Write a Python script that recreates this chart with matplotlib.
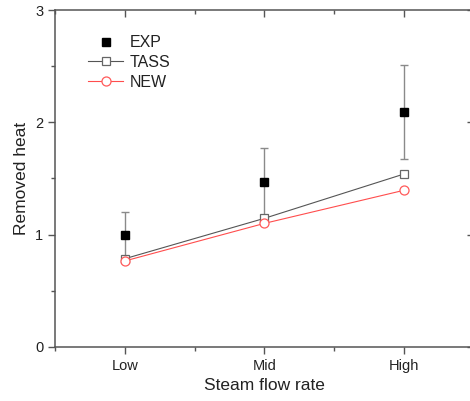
import numpy as np
import matplotlib.pyplot as plt
from matplotlib.ticker import MultipleLocator

plt.rcParams['font.family'] = ['Liberation Sans', 'DejaVu Sans']

# steam flow cases and removed heat results
cases = ['Low', 'Mid', 'High']
exp_vals = [1.00, 1.47, 2.09]
exp_err = [0.20, 0.30, 0.42]
tass_vals = [0.785, 1.145, 1.54]
new_vals = [0.765, 1.10, 1.395]

x = np.arange(1, len(cases) + 1)

fig = plt.figure(figsize=(4.70, 4.01), dpi=100)
ax = fig.add_axes([0.117, 0.135, 0.8915, 0.84])

ax.errorbar(x, exp_vals, yerr=exp_err, fmt='none', ecolor='#8a8a8a',
            elinewidth=1.0, capsize=3, capthick=1.0, zorder=2)
ax.plot(x, tass_vals, color='#555555', lw=0.8, marker='s', ms=5.5,
        mfc='white', mec='#666666', mew=0.9, label='TASS', zorder=3)
ax.plot(x, new_vals, color='#ff4d4d', lw=0.8, marker='o', ms=6.5,
        mfc='white', mec='#ff5a5a', mew=0.9, label='NEW', zorder=4)
ax.plot(x, exp_vals, ls='none', marker='s', ms=5.5, color='black',
        label='EXP', zorder=5)

ax.set_xlim(0.5, 3.5)
ax.set_ylim(0, 3)
ax.set_xticks(x)
ax.set_xticklabels(cases)
ax.xaxis.set_minor_locator(MultipleLocator(0.5))
ax.yaxis.set_major_locator(MultipleLocator(1))
ax.yaxis.set_minor_locator(MultipleLocator(0.5))

for s in ax.spines.values():
    s.set_color('#555555')
    s.set_linewidth(1.1)

ax.tick_params(which='both', color='#555555', width=1.0, labelsize=10.5,
               labelcolor='#222222', direction='out', top=True, right=True)
ax.tick_params(which='major', length=5)
ax.tick_params(which='minor', length=3)
# inward ticks on the top and right frame
for t in ax.xaxis.get_major_ticks() + ax.xaxis.get_minor_ticks():
    t.tick2line.set_marker(3)
for t in ax.yaxis.get_major_ticks() + ax.yaxis.get_minor_ticks():
    t.tick2line.set_marker(0)

ax.set_xlabel('Steam flow rate', fontsize=12.5, color='#222222', labelpad=4)
ax.set_ylabel('Removed heat', fontsize=12.5, color='#222222', labelpad=4)

h, l = ax.get_legend_handles_labels()
order = [2, 0, 1]
ax.legend([h[i] for i in order], [l[i] for i in order], loc='upper left',
          bbox_to_anchor=(0.045, 0.968), frameon=False, fontsize=11.5,
          handlelength=2.2, handletextpad=0.4, labelspacing=0.3,
          labelcolor='#222222')

fig.savefig('out.png', dpi=100)
